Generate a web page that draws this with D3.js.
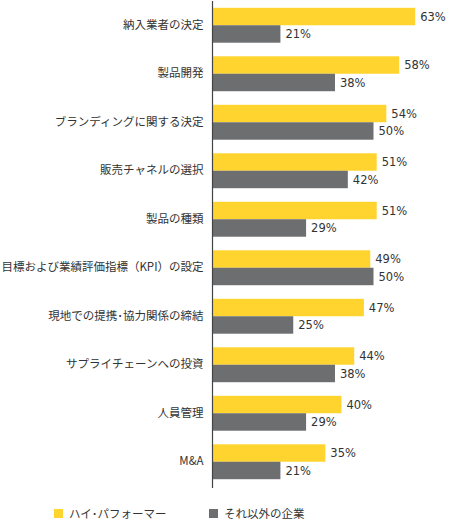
<!DOCTYPE html>
<html>
<head>
<meta charset="utf-8">
<script src="https://cdn.jsdelivr.net/npm/d3@7"></script>
<style>
  body { margin: 0; background: #fff; }
  text { font-family: "DejaVu Sans", "Noto Sans CJK JP", sans-serif; fill: #333; }
</style>
</head>
<body>
<div id="chart"></div>
<script>
const categories = [
  "納入業者の決定",
  "製品開発",
  "ブランディングに関する決定",
  "販売チャネルの選択",
  "製品の種類",
  "目標および業績評価指標（KPI）の設定",
  "現地での提携･協力関係の締結",
  "サプライチェーンへの投資",
  "人員管理",
  "M&A"
];
const highPerformers = [63, 58, 54, 51, 51, 49, 47, 44, 40, 35];
const others = [21, 38, 50, 42, 29, 50, 25, 38, 29, 21];
const seriesNames = ["ハイ･パフォーマー", "それ以外の企業"];
const colors = ["#FFD42F", "#6D6E70"];

const width = 452, height = 524;
const margin = { top: 1, left: 213, bottom: 38 };

const svg = d3.select("#chart").append("svg")
    .attr("width", width)
    .attr("height", height);

// Category bands
const y = d3.scaleBand()
    .domain(categories)
    .range([margin.top, height - margin.bottom])
    .paddingInner(0.28)
    .paddingOuter(0.14);

const sub = d3.scaleBand()
    .domain([0, 1])
    .range([0, y.bandwidth()]);

const x = d3.scaleLinear()
    .domain([0, 100])
    .range([margin.left, margin.left + 321]);

const rows = categories.map((c, i) => ({ c, vals: [highPerformers[i], others[i]] }));

const groups = svg.selectAll("g.grp")
    .data(rows)
    .enter()
    .append("g")
    .attr("class", "grp")
    .attr("transform", (d) => `translate(0,${y(d.c)})`);

groups.selectAll("rect")
    .data((d) => d.vals)
    .enter()
    .append("rect")
    .attr("x", x(0))
    .attr("y", (d, i) => sub(i))
    .attr("width", (d) => x(d) - x(0))
    .attr("height", sub.bandwidth())
    .attr("fill", (d, i) => colors[i]);

groups.selectAll("text.val")
    .data((d) => d.vals)
    .enter()
    .append("text")
    .attr("class", "val")
    .attr("x", (d) => x(d) + 5)
    .attr("y", (d, i) => sub(i) + sub.bandwidth() / 2)
    .attr("dy", "0.36em")
    .style("font-size", "11.5px")
    .text((d) => d + "%");

// Category labels
const yAxis = d3.axisLeft(y).tickSize(0).tickPadding(9);
const axisG = svg.append("g")
    .attr("transform", `translate(${margin.left - 0.5},0)`)
    .call(yAxis);
axisG.select(".domain")
    .attr("stroke", "#444")
    .attr("stroke-width", 1.2)
    .attr("d", `M0,${margin.top}V${height - margin.bottom + 2}`);
axisG.selectAll(".tick text")
    .style("font-family", "'Noto Sans CJK JP', sans-serif")
    .style("font-size", "11.5px")
    .attr("fill", "#333");

// Legend
const legendX = [54, 209];
const legend = svg.selectAll("g.leg")
    .data(seriesNames)
    .enter()
    .append("g")
    .attr("class", "leg")
    .attr("transform", (d, i) => `translate(${legendX[i]},509)`);
legend.append("rect")
    .attr("width", 9)
    .attr("height", 9)
    .attr("fill", (d, i) => colors[i]);
legend.append("text")
    .attr("x", 15)
    .attr("y", 4.5)
    .attr("dy", "0.36em")
    .style("font-family", "'Noto Sans CJK JP', sans-serif")
    .style("font-size", "11.5px")
    .text((d) => d);
</script>
</body>
</html>
